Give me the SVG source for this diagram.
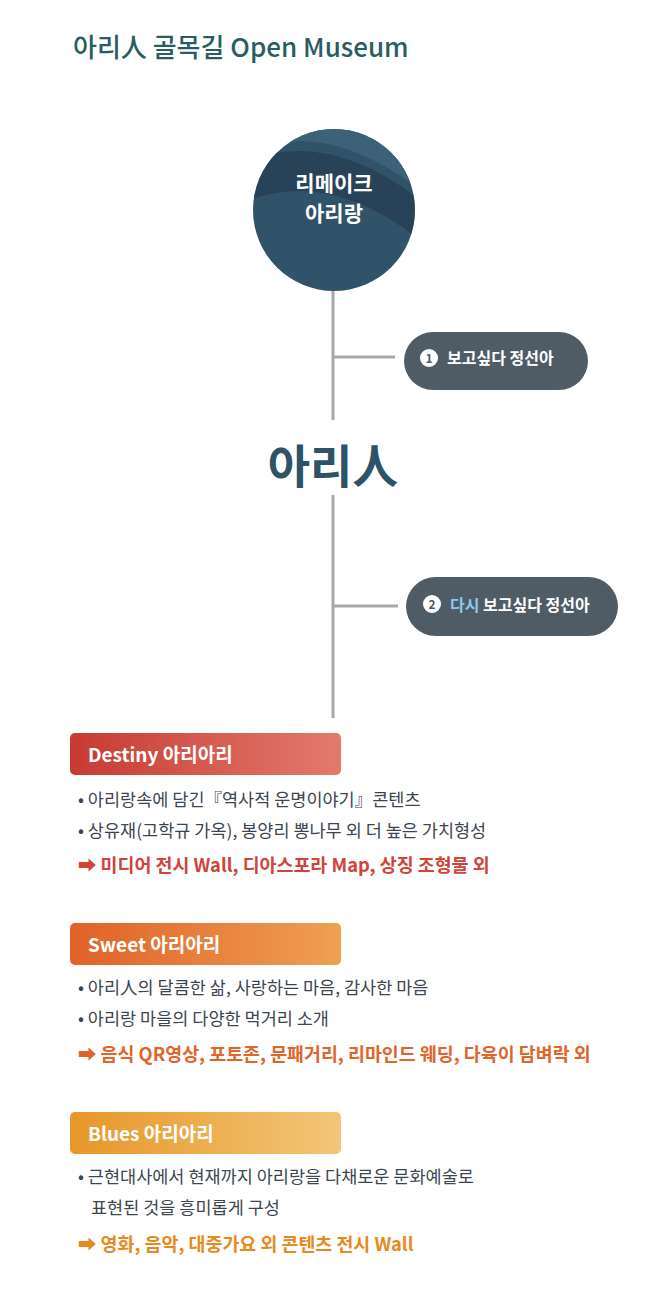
<svg xmlns="http://www.w3.org/2000/svg" width="660" height="1302" viewBox="0 0 660 1302">
<style>
text{font-family:"Noto Sans CJK KR","Noto Sans",sans-serif}
.b{font-size:17.5px;fill:#3c4650}
.h{font-size:19px;font-weight:bold;fill:#fff}
.p{font-size:16px;font-weight:bold;fill:#fff}
.r{font-size:18.4px;font-weight:bold}
.ln{stroke:#a8a8a8;stroke-width:3;fill:none}
</style>
<defs>
<linearGradient id="gc" x1="0" y1="0" x2="1" y2="1"><stop offset="0" stop-color="#1f3445"/><stop offset="1" stop-color="#36576b"/></linearGradient>
<linearGradient id="g1" x1="0" x2="1"><stop offset="0" stop-color="#c63b33"/><stop offset="1" stop-color="#e37a6c"/></linearGradient>
<linearGradient id="g2" x1="0" x2="1"><stop offset="0" stop-color="#e0612a"/><stop offset="1" stop-color="#f0a050"/></linearGradient>
<linearGradient id="g3" x1="0" x2="1"><stop offset="0" stop-color="#e8962a"/><stop offset="1" stop-color="#f2c677"/></linearGradient>
<clipPath id="cc"><circle cx="334" cy="210" r="81"/></clipPath>
</defs>
<rect width="660" height="1302" fill="#fff"/>
<text x="73" y="57" font-size="26" font-weight="500" fill="#2a5d62">아리人 골목길 Open Museum</text>
<g id="connectors">
<path class="ln" d="M333 290V420M333 495V718M333 357H395M333 606H398"/>
</g>
<g id="circle">
<circle cx="334" cy="210" r="81" fill="#31536a"/>
<path d="M250 150 Q330 120 420 190 L420 120 L250 120Z" fill="#3d6278" clip-path="url(#cc)"/>
<path d="M250 160 Q330 130 420 200 L420 240 Q330 170 250 200Z" fill="#1f3445" opacity="0.5" clip-path="url(#cc)"/>
<text x="334" y="191" text-anchor="middle" font-size="21" font-weight="bold" fill="#fff">리메이크</text>
<text x="334" y="221" text-anchor="middle" font-size="21" font-weight="bold" fill="#fff">아리랑</text>
</g>
<g id="pill1">
<rect x="404" y="332" width="184" height="58" rx="29" fill="#4f5c66"/>
<circle cx="429" cy="358" r="9" fill="#fff"/>
<text x="429" y="363" text-anchor="middle" font-size="12" font-weight="bold" fill="#4f5c66">1</text>
<text x="447" y="364" class="p">보고싶다 정선아</text>
</g>
<g id="center">
<text x="333" y="483" text-anchor="middle" font-size="46" font-weight="bold" fill="#2d5366">아리人</text>
</g>
<g id="pill2">
<rect x="406" y="577" width="212" height="59" rx="29.5" fill="#4f5c66"/>
<circle cx="432" cy="604" r="9" fill="#fff"/>
<text x="432" y="609" text-anchor="middle" font-size="12" font-weight="bold" fill="#4f5c66">2</text>
<text x="450" y="611" class="p"><tspan fill="#8cc8f0">다시</tspan> 보고싶다 정선아</text>
</g>
<g id="destiny">
<rect x="70" y="733" width="271" height="42" rx="5" fill="url(#g1)"/>
<text x="88" y="762" class="h">Destiny 아리아리</text>
<text x="78" y="806" class="b">• 아리랑속에 담긴『역사적 운명이야기』콘텐츠</text>
<text x="78" y="837" class="b">• 상유재(고학규 가옥), 봉양리 뽕나무 외 더 높은 가치형성</text>
<text x="78" y="872" class="r" fill="#d0443a">➡ 미디어 전시 Wall, 디아스포라 Map, 상징 조형물 외</text>
</g>
<g id="sweet">
<rect x="70" y="923" width="271" height="42" rx="5" fill="url(#g2)"/>
<text x="88" y="952" class="h">Sweet 아리아리</text>
<text x="78" y="994" class="b">• 아리人의 달콤한 삶, 사랑하는 마음, 감사한 마음</text>
<text x="78" y="1025" class="b">• 아리랑 마을의 다양한 먹거리 소개</text>
<text x="78" y="1061" class="r" fill="#e0652a">➡ 음식 QR영상, 포토존, 문패거리, 리마인드 웨딩, 다육이 담벼락 외</text>
</g>
<g id="blues">
<rect x="70" y="1112" width="271" height="42" rx="5" fill="url(#g3)"/>
<text x="88" y="1141" class="h">Blues 아리아리</text>
<text x="78" y="1183" class="b">• 근현대사에서 현재까지 아리랑을 다채로운 문화예술로</text>
<text x="91" y="1214" class="b">표현된 것을 흥미롭게 구성</text>
<text x="78" y="1251" class="r" fill="#e68a1e">➡ 영화, 음악, 대중가요 외 콘텐츠 전시 Wall</text>
</g>
</svg>
